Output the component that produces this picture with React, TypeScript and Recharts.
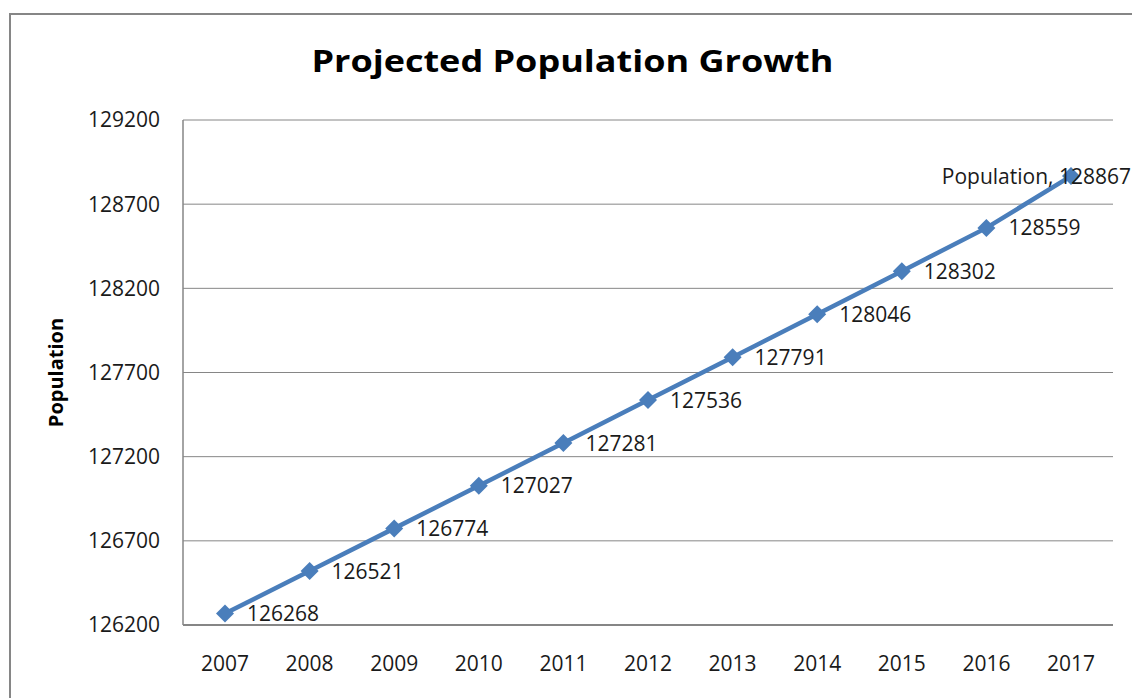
import React from "react";
import { LineChart, Line, XAxis, YAxis, CartesianGrid } from "recharts";

const years = ["2007", "2008", "2009", "2010", "2011", "2012", "2013", "2014", "2015", "2016", "2017"];
const population = [126268, 126521, 126774, 127027, 127281, 127536, 127791, 128046, 128302, 128559, 128867];
const yTicks = [126200, 126700, 127200, 127700, 128200, 128700, 129200];
const seriesName = "Population";
const chartTitle = "Projected Population Growth";

const data = years.map((year, i) => ({ year, population: population[i] }));

const BLUE = "#4a7ebb";
const GRID = "#868686";
const FONT = "'Open Sans', sans-serif";

function Diamond(props: any) {
  const { cx, cy } = props;
  if (cx == null || cy == null) return null;
  const r = 9;
  return <path d={`M${cx},${cy - r}L${cx + r},${cy}L${cx},${cy + r}L${cx - r},${cy}Z`} fill={BLUE} />;
}

// last point label carries the series name, like excel does
function PointLabel(props: any) {
  const { x, y, value } = props;
  if (x == null || y == null) return null;
  const last = value === population[population.length - 1];
  return (
    <text
      x={last ? x + 60 : x + 22}
      y={y}
      dy="0.36em"
      textAnchor={last ? "end" : "start"}
      fontSize={21}
      fontFamily={FONT}
      fill="#1a1a1a"
    >
      {last ? `${seriesName}, ${value}` : value}
    </text>
  );
}

function AxisTitle(props: any) {
  const vb = props.viewBox || {};
  const cy = (vb.y ?? 120) + (vb.height ?? 505) / 2;
  return (
    <text
      x={56}
      y={cy}
      transform={`rotate(-90, 56, ${cy})`}
      textAnchor="middle"
      dy="0.36em"
      fontSize={20}
      fontWeight="bold"
      fontFamily={FONT}
      fill="#000"
    >
      {seriesName}
    </text>
  );
}

export default function App() {
  return (
    <div style={{ position: "absolute", left: 0, top: 0, width: 1132, height: 698, background: "#fff", overflow: "hidden" }}>
      <div
        style={{
          position: "absolute",
          left: 9,
          top: 13,
          width: 1140,
          height: 700,
          borderLeft: `2px solid ${GRID}`,
          borderTop: `2px solid ${GRID}`,
        }}
      />
      <div
        style={{
          position: "absolute",
          left: 8,
          width: 1132,
          top: 38,
          textAlign: "center",
          fontFamily: FONT,
          fontWeight: "bold",
          fontSize: 30,
          lineHeight: "46px",
          color: "#000",
          transform: "scaleX(1.2)",
          transformOrigin: "574px 0",
        }}
      >
        {chartTitle}
      </div>
      <LineChart
        width={1132}
        height={698}
        data={data}
        margin={{ top: 120, right: 19, bottom: 0, left: 0 }}
        style={{ position: "absolute", left: 0, top: 0 }}
      >
        <CartesianGrid vertical={false} stroke={GRID} strokeWidth={1} />
        <XAxis
          dataKey="year"
          height={73}
          padding={{ left: 42, right: 42 }}
          tickLine={false}
          axisLine={{ stroke: GRID, strokeWidth: 2 }}
          tickMargin={25}
          tick={{ fontSize: 21, fontFamily: FONT, fill: "#1a1a1a" }}
          interval={0}
        />
        <YAxis
          width={183}
          domain={[126200, 129200]}
          ticks={yTicks}
          tickLine={false}
          axisLine={{ stroke: GRID, strokeWidth: 1.5 }}
          tickMargin={17}
          tick={{ fontSize: 21, fontFamily: FONT, fill: "#1a1a1a" }}
          label={<AxisTitle />}
        />
        <Line
          dataKey="population"
          stroke={BLUE}
          strokeWidth={4.5}
          dot={<Diamond />}
          activeDot={false}
          label={<PointLabel />}
          isAnimationActive={false}
        />
      </LineChart>
    </div>
  );
}
